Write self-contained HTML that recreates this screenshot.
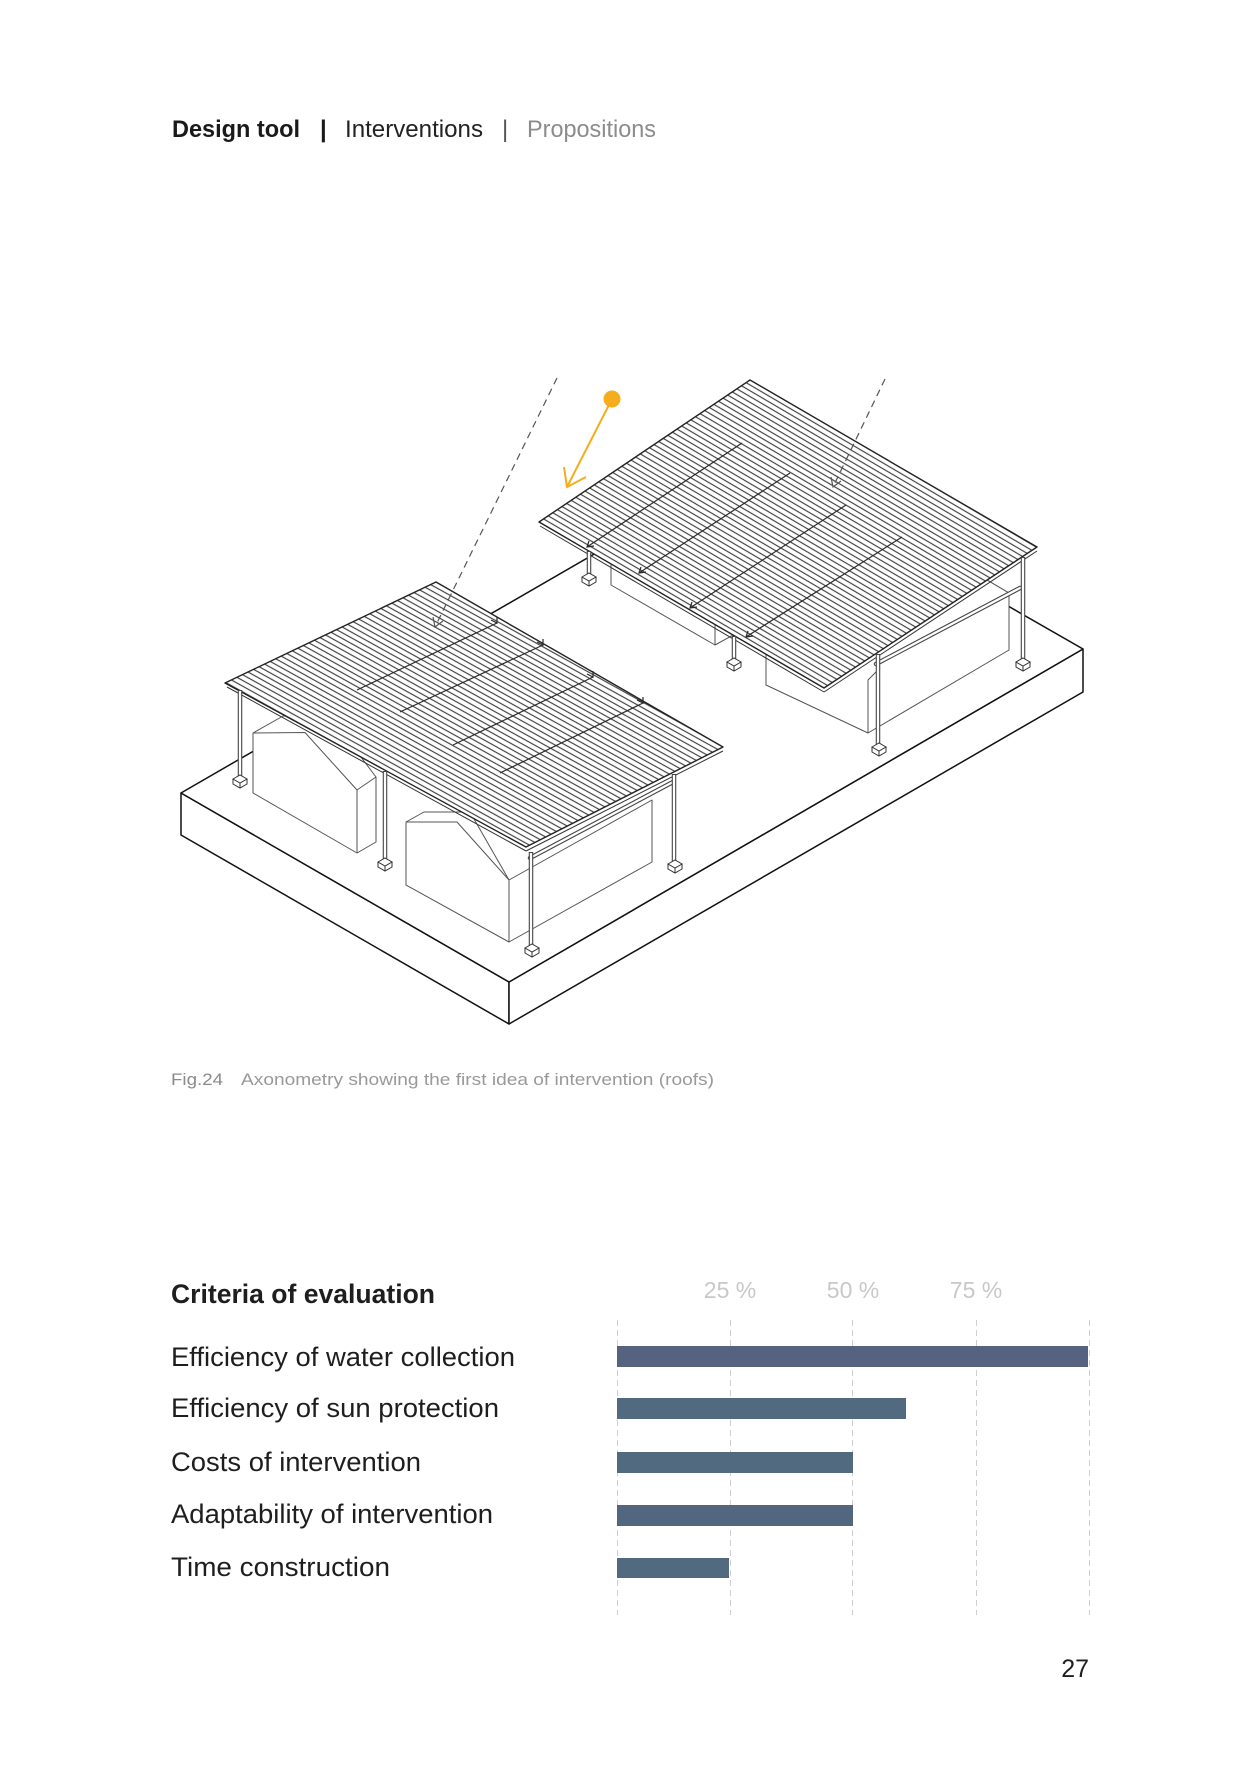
<!DOCTYPE html>
<html>
<head>
<meta charset="utf-8">
<style>
  html,body{margin:0;padding:0;background:#fff;}
  svg{display:block;}
  text{font-family:"Liberation Sans",Arial,sans-serif;}
</style>
</head>
<body>
<svg width="1260" height="1788" viewBox="0 0 1260 1788" xmlns="http://www.w3.org/2000/svg">
  <defs>
    <pattern id="hA" width="5" height="5" patternUnits="userSpaceOnUse" patternTransform="rotate(29)">
      <rect width="5" height="5" fill="#fff"/>
      <line x1="0" y1="2.5" x2="5" y2="2.5" stroke="#404040" stroke-width="1.15"/>
    </pattern>
    <pattern id="hB" width="5" height="5" patternUnits="userSpaceOnUse" patternTransform="rotate(30.4)">
      <rect width="5" height="5" fill="#fff"/>
      <line x1="0" y1="2.5" x2="5" y2="2.5" stroke="#404040" stroke-width="1.15"/>
    </pattern>
    <g id="foot">
      <path d="M-7,0 L0,-4 L7,0 L0,4 Z M-7,0 L-7,5 L0,9 L7,5 L7,0 M0,4 L0,9" fill="#fff" stroke="#333" stroke-width="1"/>
    </g>
  </defs>

  <!-- Header -->
  <text x="172" y="137" font-size="24" font-weight="bold" fill="#1a1a1a" textLength="128" lengthAdjust="spacingAndGlyphs">Design tool</text>
  <text x="320" y="137" font-size="24" font-weight="bold" fill="#1a1a1a">|</text>
  <text x="345" y="137" font-size="24" fill="#222" textLength="138" lengthAdjust="spacingAndGlyphs">Interventions</text>
  <text x="502" y="137" font-size="24" fill="#555">|</text>
  <text x="527" y="137" font-size="24" fill="#8c8c8c" textLength="129" lengthAdjust="spacingAndGlyphs">Propositions</text>

  <!-- Platform -->
  <g stroke="#111" stroke-width="1.5" fill="#fff" stroke-linejoin="round">
    <polygon points="181,793 509,982 509,1024 181,835"/>
    <polygon points="509,982 1083,649 1083,692 509,1024"/>
    <polygon points="181,793 755,461 1083,649 509,982"/>
  </g>

  <!-- Houses under roof A -->
  <g stroke="#555" stroke-width="1" fill="#fff" stroke-linejoin="round">
    <polygon points="253,733 283,716 330,716 376,777 376,842 357,853 253,793"/>
    <polyline points="253,733 305,732.5 357,790 357,853" fill="none"/>
    <line x1="357" y1="790" x2="376" y2="777"/>
    <polygon points="406,822 424,812 470,812 509,880 652,800 652,862 509,942 406,885"/>
    <polyline points="406,822 457,822 509,880 509,942" fill="none"/>
  </g>
  <!-- Houses under roof B -->
  <g stroke="#555" stroke-width="1" fill="#fff" stroke-linejoin="round">
    <polygon points="611,555 611,585 715,645 735,634 735,600 611,540"/>
    <line x1="715" y1="645" x2="715" y2="620"/>
    <polygon points="766,645 766,685 868,733 1009,650 1009,593 982,577 850,650"/>
    <polyline points="868,733 868,680 880,668" fill="none"/>
    <line x1="982" y1="577" x2="1009" y2="593"/>
  </g>

  <!-- Gutters -->
  <g stroke-linecap="round">
    <line x1="530" y1="858" x2="673" y2="782" stroke="#444" stroke-width="4.5"/>
    <line x1="530" y1="858" x2="673" y2="782" stroke="#fff" stroke-width="2.3"/>
    <line x1="876" y1="664" x2="1020" y2="588" stroke="#444" stroke-width="4.5"/>
    <line x1="876" y1="664" x2="1020" y2="588" stroke="#fff" stroke-width="2.3"/>
  </g>

  <!-- Roof A -->
  <polygon points="225,683 436,582 723,747 526,847" fill="url(#hA)" stroke="#222" stroke-width="1.4" stroke-linejoin="round"/>
  <line x1="227" y1="687" x2="526" y2="851" stroke="#333" stroke-width="1"/>
  <line x1="526" y1="851" x2="723" y2="751" stroke="#333" stroke-width="1"/>
  <g stroke="#2a2a2a" stroke-width="1.2" fill="none">
    <line x1="357" y1="690" x2="497" y2="623"/>
    <line x1="400" y1="712" x2="543" y2="645"/>
    <line x1="453" y1="745" x2="593" y2="677"/>
    <line x1="500" y1="773" x2="643" y2="703"/>
    <polyline points="491,620 497,623 497,617"/>
    <polyline points="537,642 543,645 543,639"/>
    <polyline points="587,674 593,677 593,671"/>
    <polyline points="637,700 643,703 643,697"/>
  </g>

  <!-- Roof B -->
  <polygon points="539,522 750,380 1037,547 824,688" fill="url(#hB)" stroke="#222" stroke-width="1.4" stroke-linejoin="round"/>
  <line x1="540" y1="526" x2="824" y2="692" stroke="#333" stroke-width="1"/>
  <line x1="824" y1="692" x2="1037" y2="551" stroke="#333" stroke-width="1"/>
  <g stroke="#2a2a2a" stroke-width="1.2" fill="none">
    <line x1="587" y1="547" x2="742" y2="443"/>
    <line x1="639" y1="573" x2="790" y2="473"/>
    <line x1="690" y1="608" x2="846" y2="505"/>
    <line x1="746" y1="637" x2="902" y2="537"/>
    <polyline points="594,546 587,547 589,541"/>
    <polyline points="646,572 639,573 641,567"/>
    <polyline points="697,607 690,608 692,602"/>
    <polyline points="753,636 746,637 748,631"/>
  </g>

  <!-- Posts -->
  <g stroke-linecap="butt">
    <g stroke="#444" stroke-width="4.5">
      <line x1="240" y1="690" x2="240" y2="777"/>
      <line x1="385" y1="771" x2="385" y2="860"/>
      <line x1="531" y1="852" x2="531" y2="946"/>
      <line x1="674" y1="774" x2="674" y2="862"/>
      <line x1="589" y1="551" x2="589" y2="575"/>
      <line x1="734" y1="636" x2="734" y2="660"/>
      <line x1="878" y1="654" x2="878" y2="745"/>
      <line x1="1023" y1="557" x2="1023" y2="660"/>
    </g>
    <g stroke="#fff" stroke-width="2.3">
      <line x1="240" y1="691" x2="240" y2="777"/>
      <line x1="385" y1="772" x2="385" y2="860"/>
      <line x1="531" y1="853" x2="531" y2="946"/>
      <line x1="674" y1="775" x2="674" y2="862"/>
      <line x1="589" y1="552" x2="589" y2="575"/>
      <line x1="734" y1="637" x2="734" y2="660"/>
      <line x1="878" y1="655" x2="878" y2="745"/>
      <line x1="1023" y1="558" x2="1023" y2="660"/>
    </g>
  </g>
  <use href="#foot" x="240" y="779"/>
  <use href="#foot" x="385" y="862"/>
  <use href="#foot" x="532" y="948"/>
  <use href="#foot" x="675" y="864"/>
  <use href="#foot" x="589" y="577"/>
  <use href="#foot" x="734" y="662"/>
  <use href="#foot" x="879" y="747"/>
  <use href="#foot" x="1023" y="662"/>

  <!-- Dashed sun rays -->
  <g stroke="#555" stroke-width="1.2" fill="none">
    <line x1="557" y1="378" x2="435" y2="627" stroke-dasharray="7 5"/>
    <polyline points="433,617 435,627 443,621"/>
    <line x1="885" y1="379" x2="833" y2="487" stroke-dasharray="7 5"/>
    <polyline points="831,477 833,487 841,481"/>
  </g>

  <!-- Sun -->
  <circle cx="612" cy="399" r="8.5" fill="#f5ad1b"/>
  <line x1="612" y1="399" x2="567" y2="487" stroke="#f5ad1b" stroke-width="2"/>
  <polyline points="564,467 567,487 586,477" fill="none" stroke="#f5ad1b" stroke-width="2"/>

  <!-- Caption -->
  <text x="171" y="1085" font-size="17" fill="#8a8a8a" textLength="52" lengthAdjust="spacingAndGlyphs">Fig.24</text>
  <text x="241" y="1085" font-size="17" fill="#999" textLength="473" lengthAdjust="spacingAndGlyphs">Axonometry showing the first idea of intervention (roofs)</text>

  <!-- Chart -->
  <text x="171" y="1303" font-size="26.5" font-weight="bold" fill="#1e1e1e" textLength="264" lengthAdjust="spacingAndGlyphs">Criteria of evaluation</text>

  <g font-size="23" fill="#c8c8c8" text-anchor="middle">
    <text x="730" y="1298">25 %</text>
    <text x="853" y="1298">50 %</text>
    <text x="976" y="1298">75 %</text>
  </g>

  <g stroke="#cfcfcf" stroke-width="1" stroke-dasharray="6 4">
    <line x1="617.5" y1="1320" x2="617.5" y2="1615"/>
    <line x1="730.5" y1="1320" x2="730.5" y2="1615"/>
    <line x1="852.5" y1="1320" x2="852.5" y2="1615"/>
    <line x1="976.5" y1="1320" x2="976.5" y2="1615"/>
    <line x1="1089.5" y1="1320" x2="1089.5" y2="1615"/>
  </g>

  <rect x="617" y="1346" width="471" height="21" fill="#556380"/>
  <rect x="617" y="1398" width="289" height="21" fill="#526a7f"/>
  <rect x="617" y="1452" width="236" height="21" fill="#526a7f"/>
  <rect x="617" y="1505" width="236" height="21" fill="#536680"/>
  <rect x="617" y="1558" width="112" height="20" fill="#526a7f"/>

  <g font-size="27" fill="#1e1e1e">
    <text x="171" y="1366" textLength="344" lengthAdjust="spacingAndGlyphs">Efficiency of water collection</text>
    <text x="171" y="1417" textLength="328" lengthAdjust="spacingAndGlyphs">Efficiency of sun protection</text>
    <text x="171" y="1471" textLength="250" lengthAdjust="spacingAndGlyphs">Costs of intervention</text>
    <text x="171" y="1523" textLength="322" lengthAdjust="spacingAndGlyphs">Adaptability of intervention</text>
    <text x="171" y="1576" textLength="219" lengthAdjust="spacingAndGlyphs">Time construction</text>
  </g>

  <!-- Page number -->
  <text x="1089" y="1677" font-size="25" fill="#1e1e1e" text-anchor="end">27</text>
</svg>
</body>
</html>
